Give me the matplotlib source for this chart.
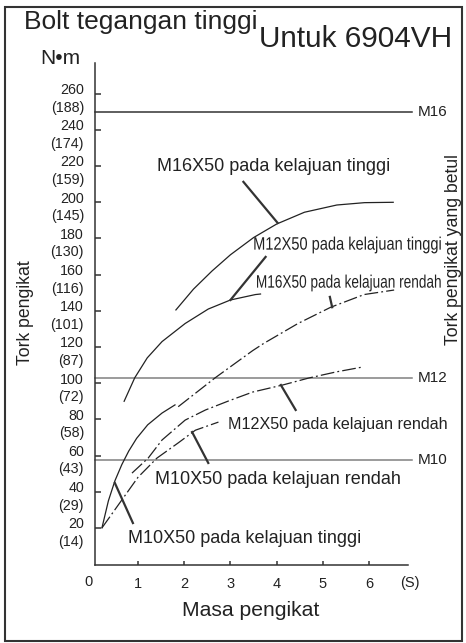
import numpy as np
import matplotlib
matplotlib.use('Agg')
import matplotlib.pyplot as plt
from matplotlib.patches import Rectangle, PathPatch
from matplotlib.textpath import TextPath
from matplotlib.font_manager import FontProperties
from matplotlib.transforms import Affine2D, ScaledTranslation

plt.rcParams['font.family'] = ['Liberation Sans', 'DejaVu Sans']

# ---- data ----
m16_high_x = [1.82, 2.2, 2.6, 3.0, 3.5, 4.0, 4.6, 5.3, 5.9, 6.52]
m16_high_y = [140.5, 152, 162, 171, 180.5, 188, 194.5, 198.5, 199.8, 200]

m12_high_x = [0.70, 0.93, 1.2, 1.52, 2.02, 2.52, 3.0, 3.54, 3.65]
m12_high_y = [90.0, 103, 114, 123, 133, 141, 146, 149, 149.3]

m10_high_x = [0.22, 0.36, 0.5, 0.65, 0.8, 0.97, 1.21, 1.52, 1.80]
m10_high_y = [20.0, 35, 46, 55, 62.5, 69.5, 77, 83.5, 88]

m16_low_x = [1.87, 2.67, 3.48, 3.72, 4.46, 5.17, 5.89, 6.54]
m16_low_y = [87.0, 103, 118, 122, 133, 142, 149, 151.5]

m12_low_x = [0.87, 1.22, 1.52, 2.02, 2.46, 2.96, 3.48, 4.13, 4.70, 5.28, 5.87]
m12_low_y = [50.3, 58.6, 68.6, 79.6, 85.2, 90.2, 95.1, 99, 102.9, 106.2, 109]

m10_low_x = [0.22, 0.61, 1.0, 1.41, 1.87, 2.24, 2.74]
m10_low_y = [20.0, 34, 48, 58.6, 67, 74, 78.5]

limit_names = ['M16', 'M12', 'M10']
limit_vals = [250, 103, 57.5]
limit_cols = ['#333333', '#808080', '#808080']

ytick_vals = [260, 240, 220, 200, 180, 160, 140, 120, 100, 80, 60, 40, 20]
ytick_alt = [188, 174, 159, 145, 130, 116, 101, 87, 72, 58, 43, 29, 14]
xtick_vals = [1, 2, 3, 4, 5, 6]

# curve labels: text, position, size, horizontal squeeze (1 = normal font)
labels = [
    ('M16X50 pada kelajuan tinggi', 1.41, 219.6, 13, 1),
    ('M12X50 pada kelajuan tinggi', 3.49, 176.4, 13, 0.81),
    ('M16X50 pada kelajuan rendah', 3.55, 155.4, 13, 0.755),
    ('M12X50 pada kelajuan rendah', 2.95, 77.4, 11.6, 1),
    ('M10X50 pada kelajuan rendah', 1.37, 46.5, 13, 1),
    ('M10X50 pada kelajuan tinggi', 0.78, 14.4, 13, 1),
]
leaders = [
    ((3.28, 211.3), (4.02, 188.6)),
    ((3.76, 169.8), (3.0, 146.0)),
    ((5.15, 147.7), (5.20, 142.0)),
    ((4.09, 99.0), (4.41, 85.2)),
    ((2.17, 73.0), (2.52, 55.9)),
    ((0.5, 44.8), (0.89, 22.7)),
]

ink = '#222222'
dashdot = (0, (11, 2.5, 1.5, 2.5))
DPI = 100


def narrow_text(fig, ax, x, y, s, size_pt, squeeze):
    # horizontally condensed text drawn as a path
    fp = FontProperties(family='Liberation Sans')
    tp = TextPath((0, 0), s, size=size_pt, prop=fp)
    ref = TextPath((0, 0), 'Mlpg', size=size_pt, prop=fp).get_extents()
    k = DPI / 72.0
    tr = (Affine2D().translate(0, -(ref.y0 + ref.y1) / 2).scale(squeeze * k, k)
          + ScaledTranslation(x, y, ax.transData))
    p = PathPatch(tp, transform=tr, facecolor=ink, edgecolor='none', lw=0)
    fig.add_artist(p)


fig = plt.figure(figsize=(4.66, 6.43), dpi=DPI)
ax = fig.add_axes([95/466, 1-565/643, 313/466, 502/643])

ax.set_xlim(0.07, 6.84)
ax.set_ylim(-0.5, 277)

for s in ['top', 'right']:
    ax.spines[s].set_visible(False)
for s in ['left', 'bottom']:
    ax.spines[s].set_color('#333333')
    ax.spines[s].set_linewidth(1.1)

# limit lines
for name, v, c in zip(limit_names, limit_vals, limit_cols):
    ax.plot([0.07, 6.93], [v, v], color=c, lw=1.1, clip_on=False)
    ax.text(7.05, v, name, fontsize=11, color=ink, ha='left', va='center')

# curves
ax.plot(m16_high_x, m16_high_y, color=ink, lw=0.9)
ax.plot(m12_high_x, m12_high_y, color=ink, lw=0.9)
ax.plot(m10_high_x, m10_high_y, color=ink, lw=0.9)
ax.plot(m16_low_x, m16_low_y, color=ink, lw=0.9, linestyle=dashdot)
ax.plot(m12_low_x, m12_low_y, color=ink, lw=0.9, linestyle=dashdot)
ax.plot(m10_low_x, m10_low_y, color=ink, lw=0.9, linestyle=dashdot)

for (p0, p1) in leaders:
    ax.plot([p0[0], p1[0]], [p0[1], p1[1]], color='#333333', lw=1.6)

for txt, x, y, size, squeeze in labels:
    if squeeze < 1:
        narrow_text(fig, ax, x, y, txt, size, squeeze)
    else:
        ax.text(x, y, txt, fontsize=size, color=ink, ha='left', va='center')

# y ticks with double labels
ax.set_yticks(ytick_vals)
ax.set_yticklabels([])
ax.tick_params(axis='y', direction='in', length=4, width=1.1, color='#333333')
for v, a in zip(ytick_vals, ytick_alt):
    ax.text(-0.035, v + 2, str(v), transform=ax.get_yaxis_transform(),
            fontsize=10.3, color=ink, ha='right', va='center')
    ax.text(-0.035, v - 7.7, '(%d)' % a, transform=ax.get_yaxis_transform(),
            fontsize=10.3, color=ink, ha='right', va='center')

ax.set_xticks(xtick_vals)
ax.set_xticklabels([str(v) for v in xtick_vals], fontsize=10.5, color=ink)
ax.tick_params(axis='x', direction='in', length=3, width=1.1, color='#333333', pad=9)
ax.text(-0.08, -9.7, '0', fontsize=10.5, color=ink, ha='center', va='center',
        clip_on=False)

fig.text(24/466, 1-22/643, 'Bolt tegangan tinggi', fontsize=19, color=ink,
         ha='left', va='center')
fig.text(259/466, 1-39/643, 'Untuk 6904VH', fontsize=21.4, color=ink,
         ha='left', va='center')
fig.text(40/466, 1-58/643, 'N\u2022m', fontsize=15, color=ink, ha='left', va='center')
fig.text(25/466, 1-313/643, 'Tork pengikat', fontsize=12.7, color=ink,
         rotation=90, ha='center', va='center')
fig.text(453/466, 1-250/643, 'Tork pengikat yang betul', fontsize=12.7, color=ink,
         rotation=90, ha='center', va='center')
fig.text(251/466, 1-610/643, 'Masa pengikat', fontsize=15.2, color=ink,
         ha='center', va='center')
fig.text(410/466, 1-583/643, '(S)', fontsize=10.5, color=ink, ha='center', va='center')

fig.patches.append(Rectangle((5/466, 2/643), 457/466, 634/643, transform=fig.transFigure,
                             fill=False, edgecolor='#333333', lw=1.5))

fig.savefig('out.png', dpi=DPI)
